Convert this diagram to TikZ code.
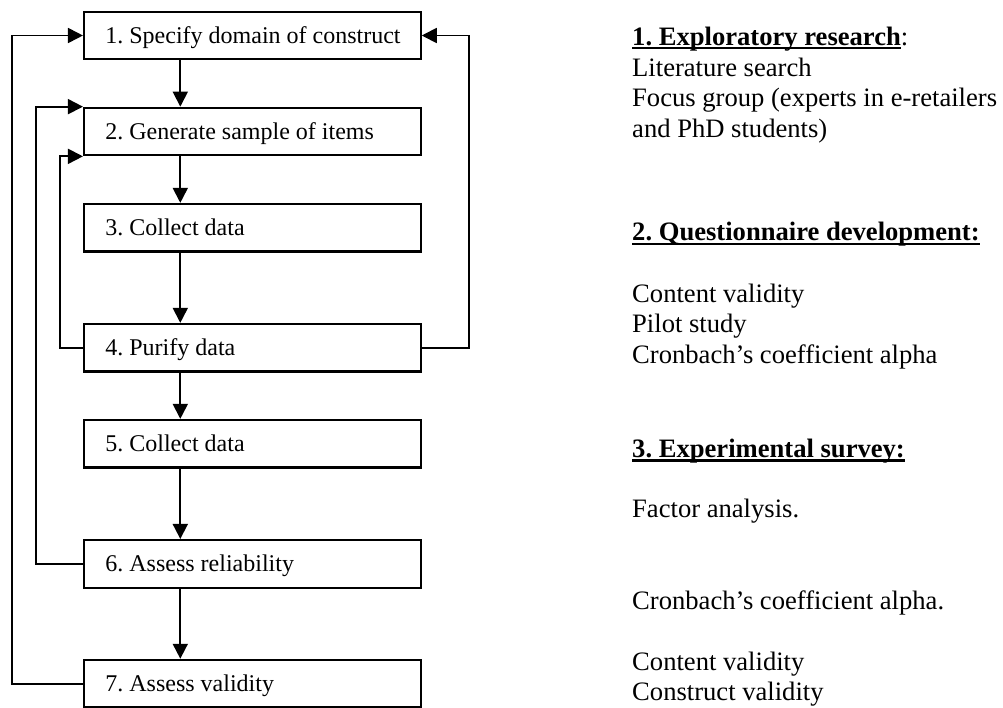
\documentclass[tikz,border=0pt]{standalone}
\usepackage{fontspec}
\setmainfont{Liberation Serif}
\usetikzlibrary{arrows.meta}
\frenchspacing

% bold heading with a rule drawn just under the baseline
\newcommand{\headul}[1]{\setbox0\hbox{\bfseries #1}\rlap{\rule[-0.16em]{\wd0}{0.085em}}\box0}

\begin{document}
\begin{tikzpicture}[x=1pt,y=-1pt,
  stepbox/.style={draw, line width=2.1pt, minimum width=336.7pt, minimum height=47.6pt,
    inner xsep=21pt, inner ysep=0pt, text height=17pt, text depth=1pt,
    font=\fontsize{24}{28}\selectfont},
  flow/.style={line width=1.8pt, -{Triangle[length=15pt,width=15pt]}},
  note/.style={anchor=base west, inner sep=0pt, font=\fontsize{26.6}{30.5}\selectfont}]

\useasboundingbox (0,0) rectangle (1003,707);

% process steps
\node[stepbox] (b1) at (252.35,35.5)  {\makebox[294pt][l]{1. Specify domain of construct}};
\node[stepbox] (b2) at (252.35,131.5) {\makebox[294pt][l]{2. Generate sample of items}};
\node[stepbox] (b3) at (252.35,227.7) {\makebox[294pt][l]{3. Collect data}};
\node[stepbox] (b4) at (252.35,347.7) {\makebox[294pt][l]{4. Purify data}};
\node[stepbox] (b5) at (252.35,443.7) {\makebox[294pt][l]{5. Collect data}};
\node[stepbox] (b6) at (252.35,563.8) {\makebox[294pt][l]{6. Assess reliability}};
\node[stepbox] (b7) at (252.35,683.6) {\makebox[294pt][l]{7. Assess validity}};

% column of the main flow and the feedback rails
\coordinate (axis)  at (180.3,0);
\coordinate (rail1) at (12.3,0);
\coordinate (rail2) at (36,0);
\coordinate (rail3) at (60.3,0);
\coordinate (rail4) at (469.3,0);

\draw[flow] (b1.south -| axis) -- (b2.north -| axis);
\draw[flow] (b2.south -| axis) -- (b3.north -| axis);
\draw[flow] (b3.south -| axis) -- (b4.north -| axis);
\draw[flow] (b4.south -| axis) -- (b5.north -| axis);
\draw[flow] (b5.south -| axis) -- (b6.north -| axis);
\draw[flow] (b6.south -| axis) -- (b7.north -| axis);

\draw[flow] (b7.west) -- (b7.west -| rail1) |- (b1.west);
\draw[flow] (b6.west) -- (b6.west -| rail2) |- (b2.north west);
\draw[flow] (b4.west) -- (b4.west -| rail3) |- (b2.south west);
\draw[flow] (b4.east) -- (b4.east -| rail4) |- (b1.east);

% methods used in each phase
\node[note] (h1) at (632,45)    {\headul{1. Exploratory research}:};
\node[note] (l1) at (632,76)    {Literature search};
\node[note] (l2) at (632,106.7) {Focus group (experts in e-retailers};
\node[note] (l3) at (632,137)   {and PhD students)};
\node[note] (h2) at (632,240.7) {\headul{2. Questionnaire development:}};
\node[note] (l4) at (632,302.3) {Content validity};
\node[note] (l5) at (632,332.7) {Pilot study};
\node[note] (l6) at (632,363.3) {Cronbach’s coefficient alpha};
\node[note] (h3) at (632,457.3) {\headul{3. Experimental survey:}};
\node[note] (l7) at (632,517.3) {Factor analysis.};
\node[note] (l8) at (632,609.3) {Cronbach’s coefficient alpha.};
\node[note] (l9) at (632,670.7) {Content validity};
\node[note] (l10) at (632,700.7) {Construct validity};
\end{tikzpicture}
\end{document}
